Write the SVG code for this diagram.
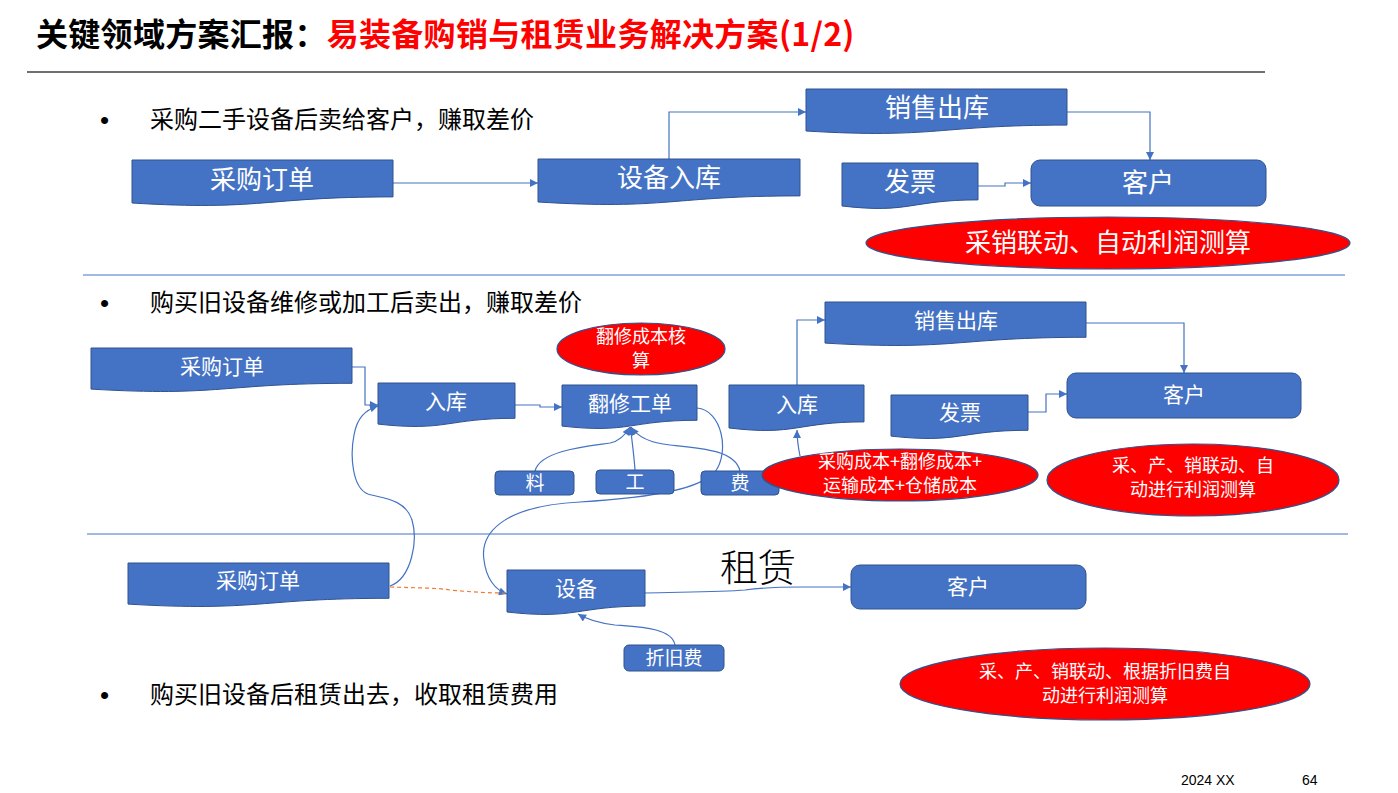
<svg xmlns="http://www.w3.org/2000/svg" width="1398" height="793" viewBox="0 0 1398 793">
<defs>
<marker id="arr" viewBox="0 0 10 10" refX="10" refY="5" markerWidth="9" markerHeight="8" markerUnits="userSpaceOnUse" orient="auto">
<path d="M0,0 L10,5 L0,10 z" fill="#4472C4"/>
</marker>
</defs>
<style>
.box{fill:#4472C4;stroke:#2F528F;stroke-width:1}
.ell{fill:#FF0000;stroke:#2F528F;stroke-width:1.2}
.con{fill:none;stroke:#4472C4;stroke-width:1.2}
.dash{fill:none;stroke:#ED7D31;stroke-width:1.2;stroke-dasharray:4 3}
.sep{stroke:#4472C4;stroke-width:1}
.t{font-family:"Noto Sans CJK SC","Noto Sans",sans-serif;fill:#fff;text-anchor:middle}
.b{font-family:"Noto Sans CJK SC","Noto Sans",sans-serif;fill:#000;font-size:24px}
.dot{font-family:"Liberation Sans",Arial,sans-serif;fill:#000;font-size:26px}
.l{font-size:26px}
.m{font-size:21px}
.s{font-size:19px}
.e{font-size:18px}
</style>
<rect width="1398" height="793" fill="#fff"/>
<text x="36" y="46" font-family="'Noto Sans CJK SC','Noto Sans',sans-serif" font-weight="bold" font-size="32" letter-spacing="0.3"><tspan fill="#000">关键领域方案汇报：</tspan><tspan fill="#FF0000">易装备购销与租赁业务解决方案(1/2)</tspan></text>
<line x1="27" y1="72" x2="1265" y2="72" stroke="#404040" stroke-width="1.5"/>
<line class="sep" x1="83" y1="275" x2="1345" y2="275"/>
<line class="sep" x1="87" y1="534" x2="1348" y2="534"/>

<text class="dot" x="100" y="129">•</text>
<text class="b" x="150" y="128">采购二手设备后卖给客户，赚取差价</text>
<text class="dot" x="100" y="312">•</text>
<text class="b" x="150" y="311">购买旧设备维修或加工后卖出，赚取差价</text>
<text class="dot" x="100" y="704">•</text>
<text class="b" x="150" y="703">购买旧设备后租赁出去，收取租赁费用</text>
<text x="758" y="581" text-anchor="middle" font-family="'Noto Sans CJK SC',sans-serif" font-weight="300" font-size="38" fill="#000">租赁</text>

<g id="connectors">
<path class="con" d="M393,183 H538" marker-end="url(#arr)"/>
<path class="con" d="M669,159 V112 H806" marker-end="url(#arr)"/>
<path class="con" d="M1067,112 H1150 V160" marker-end="url(#arr)"/>
<path class="con" d="M978,186 H1005 V183 H1031" marker-end="url(#arr)"/>
<path class="con" d="M352,367 H365 V405 H378" marker-end="url(#arr)"/>
<path class="con" d="M515,405 H540 V407 H562" marker-end="url(#arr)"/>
<path class="con" d="M797,385 V320 H825" marker-end="url(#arr)"/>
<path class="con" d="M1086,323 H1184 V373" marker-end="url(#arr)"/>
<path class="con" d="M1028,412 H1046 V394 H1067" marker-end="url(#arr)"/>
<path class="con" d="M535,471 C540,450 590,446 610,443 C620,441 626,434 630,427" marker-end="url(#arr)"/>
<path class="con" d="M635,470 C634,455 632,442 630.5,427" marker-end="url(#arr)"/>
<path class="con" d="M740,471 C735,450 700,448 670,445 C650,443 637,436 631,427" marker-end="url(#arr)"/>
<path class="con" d="M697,408 C722,410 730,452 715,472 C700,488 660,497 580,502 C500,506 480,535 484,560 C486,578 495,590 507,594" marker-end="url(#arr)"/>
<path class="con" d="M390,586 C412,578 418,540 412,520 C405,498 380,498 368,494 C352,488 350,455 354,435 C357,418 365,410 378,406" marker-end="url(#arr)"/>
<path class="dash" d="M390,587 C420,588 440,588 450,590 C470,592 490,593 505,593"/>
<path class="con" d="M800,456 C798,446 797,440 797,430" marker-end="url(#arr)"/>
<path class="con" d="M645,593 C680,592 720,592 745,590 C760,588 770,587 800,587 H851" marker-end="url(#arr)"/>
<path class="con" d="M675,645 C672,628 640,627 615,625 C598,623 588,620 578,614" marker-end="url(#arr)"/>
</g>

<g id="s1-po"><path class="box" d="M132,160 H393 V196.9 C262.5,196.9 262.5,211 132,203 Z"/><text class="t l" x="262" y="189">采购订单</text></g>
<g id="s1-in"><path class="box" d="M538,159 H800 V195.9 C669,195.9 669,210 538,202 Z"/><text class="t l" x="669" y="187">设备入库</text></g>
<g id="s1-out"><path class="box" d="M806,89 H1067 V125.1 C936.5,125.1 936.5,138.9 806,131 Z"/><text class="t l" x="937" y="117">销售出库</text></g>
<g id="s1-inv"><path class="box" d="M842,163 H978 V199.9 C910,199.9 910,214 842,206 Z"/><text class="t l" x="910" y="191">发票</text></g>
<g id="s1-cust"><rect class="box" x="1031" y="160" width="235" height="46" rx="9"/><text class="t l" x="1148" y="192">客户</text></g>
<g id="s1-note"><ellipse class="ell" cx="1108" cy="243" rx="242" ry="26"/><text class="t l" x="1108" y="252">采销联动、自动利润测算</text></g>

<g id="s2-po"><path class="box" d="M91,348 H352 V383.3 C221.5,383.3 221.5,396.8 91,389.1 Z"/><text class="t m" x="222" y="374">采购订单</text></g>
<g id="s2-in1"><path class="box" d="M378,383 H515 V418.3 C446.5,418.3 446.5,431.8 378,424.1 Z"/><text class="t m" x="446" y="409">入库</text></g>
<g id="s2-rep"><path class="box" d="M562,385 H697 V420.3 C629.5,420.3 629.5,433.8 562,426.1 Z"/><text class="t m" x="630" y="411">翻修工单</text></g>
<g id="s2-note1"><ellipse class="ell" cx="641" cy="349" rx="84" ry="26"/><text class="t e" x="641" y="343">翻修成本核<tspan x="641" dy="24">算</tspan></text></g>
<g id="s2-liao"><rect class="box" x="495" y="471" width="79" height="24" rx="4"/><text class="t s" x="535" y="490">料</text></g>
<g id="s2-gong"><rect class="box" x="596" y="470" width="78" height="24" rx="4"/><text class="t s" x="635" y="489">工</text></g>
<g id="s2-fei"><rect class="box" x="701" y="471" width="78" height="24" rx="4"/><text class="t s" x="740" y="490">费</text></g>
<g id="s2-in2"><path class="box" d="M729,385 H864 V421.9 C796.5,421.9 796.5,436 729,428 Z"/><text class="t m" x="797" y="412">入库</text></g>
<g id="s2-out"><path class="box" d="M825,302 H1086 V337.3 C955.5,337.3 955.5,350.8 825,343.1 Z"/><text class="t m" x="956" y="328">销售出库</text></g>
<g id="s2-inv"><path class="box" d="M891,395 H1028 V430.3 C959.5,430.3 959.5,443.8 891,436.1 Z"/><text class="t m" x="960" y="420">发票</text></g>
<g id="s2-cust"><rect class="box" x="1067" y="373" width="234" height="45" rx="9"/><text class="t m" x="1184" y="402">客户</text></g>
<g id="s2-note2"><ellipse class="ell" cx="900" cy="475" rx="138" ry="26"/><text class="t e" x="900" y="468">采购成本+翻修成本+<tspan x="900" dy="24">运输成本+仓储成本</tspan></text></g>
<g id="s2-note3"><ellipse class="ell" cx="1193" cy="480" rx="146" ry="36"/><text class="t e" x="1193" y="472">采、产、销联动、自<tspan x="1193" dy="24">动进行利润测算</tspan></text></g>

<g id="s3-po"><path class="box" d="M128,563 H389 V598.3 C258.5,598.3 258.5,611.8 128,604.1 Z"/><text class="t m" x="258" y="588">采购订单</text></g>
<g id="s3-dev"><path class="box" d="M507,570 H645 V606.1 C576,606.1 576,619.9 507,612 Z"/><text class="t m" x="576" y="596">设备</text></g>
<g id="s3-cust"><rect class="box" x="851" y="565" width="235" height="44" rx="9"/><text class="t m" x="968" y="594">客户</text></g>
<g id="s3-dep"><rect class="box" x="624" y="645" width="100" height="26" rx="5"/><text class="t s" x="674" y="665">折旧费</text></g>
<g id="s3-note"><ellipse class="ell" cx="1105" cy="684" rx="205" ry="36"/><text class="t e" x="1105" y="678">采、产、销联动、根据折旧费自<tspan x="1105" dy="24">动进行利润测算</tspan></text></g>

<text x="1181" y="785" font-family="'Liberation Sans',Arial,sans-serif" font-size="14" fill="#000">2024 XX</text>
<text x="1302" y="785" font-family="'Liberation Sans',Arial,sans-serif" font-size="14" fill="#000">64</text>
</svg>
